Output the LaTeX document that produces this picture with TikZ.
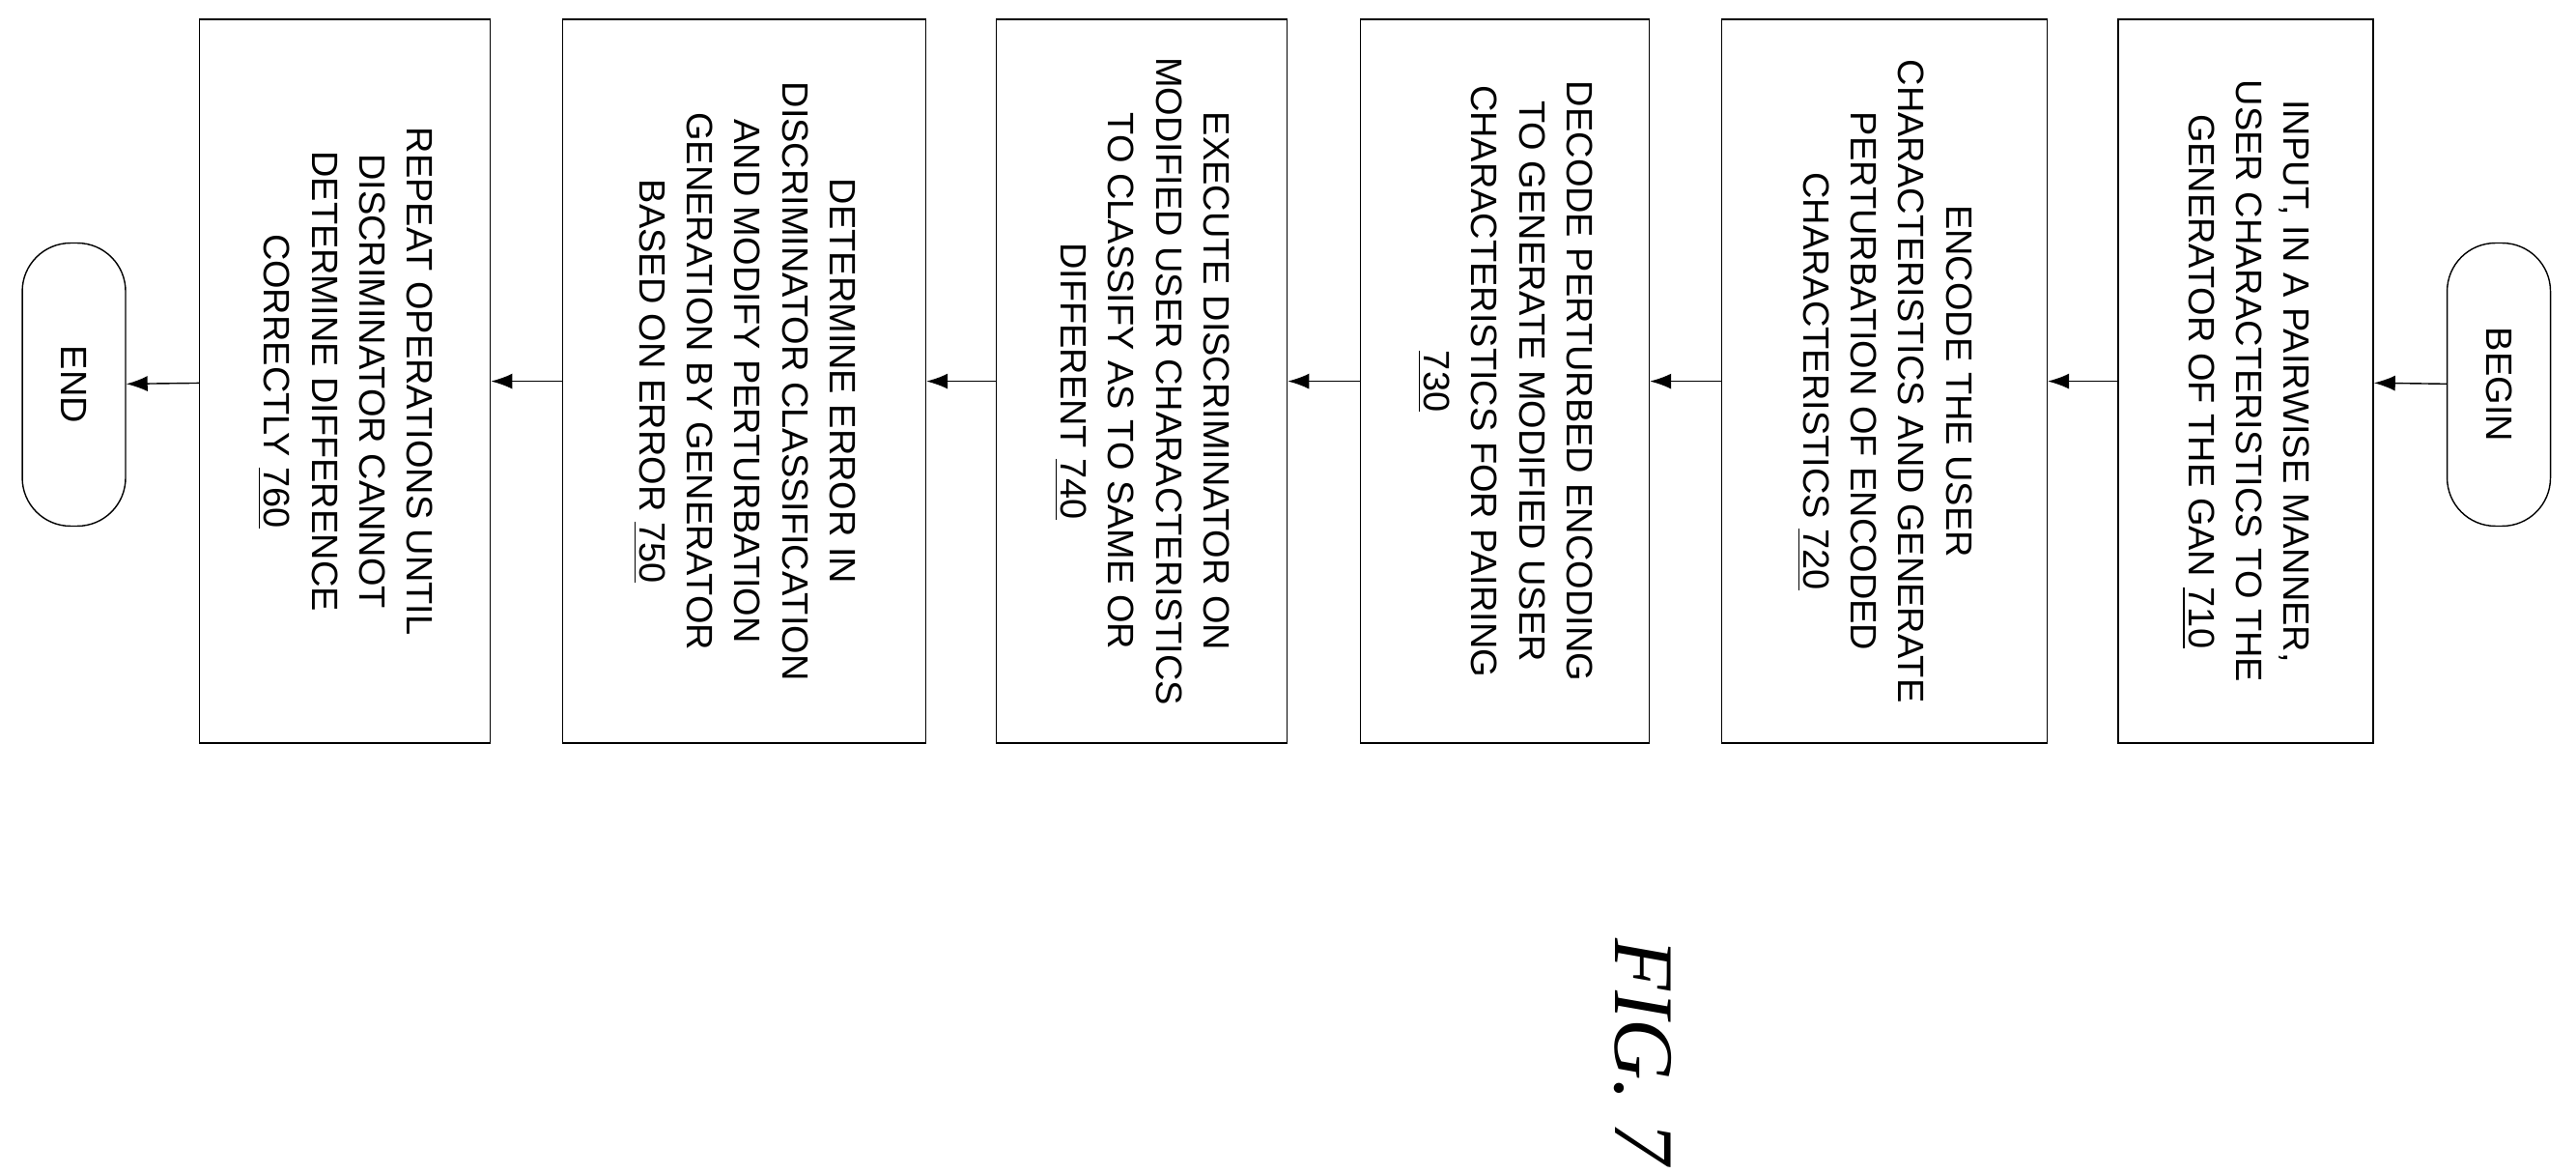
\documentclass[tikz,border=0pt]{standalone}
\usepackage{fontspec}
\setmainfont{Liberation Sans}
\newfontfamily\figfont{Liberation Serif}
\usetikzlibrary{arrows.meta}
\tikzset{
    stepbox/.style={draw, rotate=-90, align=center, inner sep=2pt,
        font=\fontsize{10.8}{14}\selectfont, minimum width=7.49cm},
    term/.style={draw, rotate=-90, rounded corners=0.5cm, minimum width=2.93cm,
        minimum height=1.07cm, font=\fontsize{10.8}{14}\selectfont},
    flow/.style={-{Latex[length=2.2mm,width=1.6mm]}}
}
\begin{document}
\begin{tikzpicture}[x=0.01701cm, y=-0.01701cm]
    \useasboundingbox (0,0) rectangle (1568,714);

    % terminals
    \node[term] (begin) at (1521,234) {BEGIN};
    \node[term] (end) at (45,234) {END};

    % steps
    \node[stepbox, minimum height=2.64cm] (s710) at (1367,232)
        {INPUT, IN A PAIRWISE MANNER,\\USER CHARACTERISTICS TO THE\\GENERATOR OF THE GAN \underline{710}};
    \node[stepbox, minimum height=3.37cm] (s720) at (1147,232)
        {ENCODE THE USER\\CHARACTERISTICS AND GENERATE\\PERTURBATION OF ENCODED\\CHARACTERISTICS \underline{720}};
    \node[stepbox, minimum height=2.99cm] (s730) at (916,232)
        {DECODE PERTURBED ENCODING\\TO GENERATE MODIFIED USER\\CHARACTERISTICS FOR PAIRING\\\underline{730}};
    \node[stepbox, minimum height=3.01cm] (s740) at (695,232)
        {EXECUTE DISCRIMINATOR ON\\MODIFIED USER CHARACTERISTICS\\TO CLASSIFY AS TO SAME OR\\DIFFERENT \underline{740}};
    \node[stepbox, minimum height=3.76cm] (s750) at (453,232)
        {DETERMINE ERROR IN\\DISCRIMINATOR CLASSIFICATION\\AND MODIFY PERTURBATION\\GENERATION BY GENERATOR\\BASED ON ERROR \underline{750}};
    \node[stepbox, minimum height=3.01cm] (s760) at (210,232)
        {REPEAT OPERATIONS UNTIL\\DISCRIMINATOR CANNOT\\DETERMINE DIFFERENCE\\CORRECTLY \underline{760}};

    % connectors
    \draw[flow] (begin) -- (s710);
    \draw[flow] (s710) -- (s720);
    \draw[flow] (s720) -- (s730);
    \draw[flow] (s730) -- (s740);
    \draw[flow] (s740) -- (s750);
    \draw[flow] (s750) -- (s760);
    \draw[flow] (s760) -- (end);

    \node[rotate=-90, font=\figfont\itshape\fontsize{25}{27}\selectfont] (fig) at (1000,640) {FIG. 7};
\end{tikzpicture}
\end{document}
